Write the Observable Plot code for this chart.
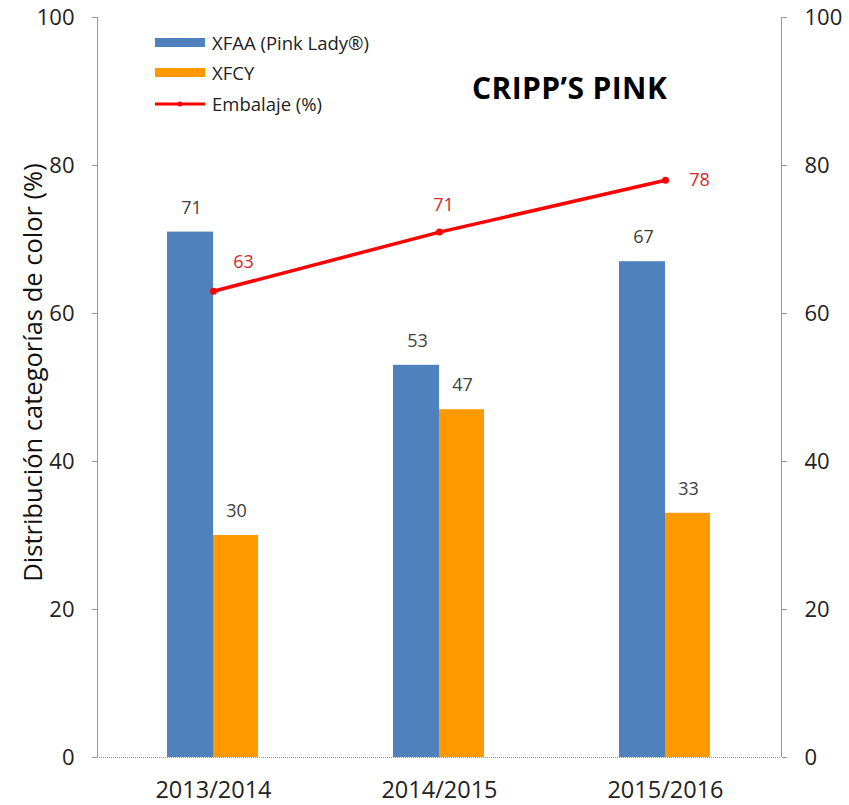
<!DOCTYPE html>
<html>
<head>
<meta charset="utf-8">
<script src="https://cdn.jsdelivr.net/npm/d3@7"></script>
<script src="https://cdn.jsdelivr.net/npm/@observablehq/plot@0.6"></script>
<style>
  body { margin: 0; background: #fff; }
  #wrap { position: relative; width: 849px; height: 805px; font-family: "Open Sans", sans-serif; }
  #title { position: absolute; left: 472px; top: 67px; font-size: 30px; font-weight: bold; color: #000; letter-spacing: 0.4px; }
  .leg { position: absolute; left: 155px; font-size: 18.5px; color: #222; display: flex; align-items: center; }
  .sw { width: 50px; height: 9px; margin-right: 7px; }
</style>
</head>
<body>
<div id="wrap">
  <div id="chart"></div>
  <div id="title">CRIPP’S PINK</div>
  <div class="leg" style="top:30px"><div class="sw" style="background:#4f81bd"></div>XFAA (Pink Lady®)</div>
  <div class="leg" style="top:60px"><div class="sw" style="background:#ff9900"></div>XFCY</div>
  <div class="leg" style="top:91px"><svg width="50" height="10" style="margin-right:7px"><line x1="0" y1="5" x2="50" y2="5" stroke="#ff0000" stroke-width="3"/><circle cx="25" cy="5" r="2.5" fill="#ff0000"/></svg>Embalaje (%)</div>
</div>
<script>
const years = ["2013/2014", "2014/2015", "2015/2016"];
const xfaa = [71, 53, 67];
const xfcy = [30, 47, 33];
const embalaje = [63, 71, 78];
const yTicks = [0, 20, 40, 60, 80, 100];

const blue = years.map((y, i) => ({year: y, value: xfaa[i]}));
const orange = years.map((y, i) => ({year: y, value: xfcy[i]}));
const line = years.map((y, i) => ({year: y, value: embalaje[i]}));

const chart = Plot.plot({
  width: 849,
  height: 805,
  marginLeft: 97,
  marginRight: 68,
  marginTop: 17,
  marginBottom: 48,
  style: {fontFamily: "Open Sans, sans-serif", background: "#fff"},
  x: {domain: years, padding: 0, range: [98.75, 778.25], label: null},
  y: {domain: [0, 100], label: null},
  marks: [
    Plot.barY(blue, {x: "year", y: "value", fill: "#4f81bd", insetLeft: 67, insetRight: 113}),
    Plot.barY(orange, {x: "year", y: "value", fill: "#ff9900", insetLeft: 113, insetRight: 68}),
    Plot.text(blue, {x: "year", y: "value", text: d => String(d.value), dx: -22, dy: -24, fontSize: 18, fill: "#404040"}),
    Plot.text(orange, {x: "year", y: "value", text: d => String(d.value), dx: 23, dy: -24, fontSize: 18, fill: "#404040"}),
    Plot.line(line, {x: "year", y: "value", stroke: "#ff0000", strokeWidth: 3.5}),
    Plot.dot(line, {x: "year", y: "value", r: 3.5, fill: "#ff0000"}),
    Plot.text(line.slice(0, 1), {x: "year", y: "value", text: d => String(d.value), dx: 30, dy: -29, fontSize: 18, fill: "#d62728"}),
    Plot.text(line.slice(1, 2), {x: "year", y: "value", text: d => String(d.value), dx: 4, dy: -27, fontSize: 18, fill: "#d62728"}),
    Plot.text(line.slice(2, 3), {x: "year", y: "value", text: d => String(d.value), dx: 34, dy: 0, fontSize: 18, fill: "#d62728"}),
    Plot.axisY({anchor: "left", ticks: yTicks, tickSize: 5, tickPadding: 18, stroke: "#999", fill: "#222", fontSize: 22, label: null}),
    Plot.axisY({anchor: "right", ticks: yTicks, tickSize: 5, tickPadding: 18, stroke: "#999", fill: "#222", fontSize: 22, label: null}),
    Plot.axisX({anchor: "bottom", tickSize: 0, tickPadding: 24, fill: "#222", fontSize: 23.5, label: null}),
    Plot.ruleY([0], {stroke: "#999", strokeDasharray: "1,1"}),
    Plot.frame({anchor: "left", stroke: "#999", strokeDasharray: "1,1"}),
    Plot.frame({anchor: "right", stroke: "#999", strokeDasharray: "1,1"}),
    Plot.text(["Distribución categorías de color (%)"], {frameAnchor: "left", textAnchor: "middle", dx: -64, dy: -15, rotate: -90, fontSize: 25.5, fill: "#111"})
  ]
});
document.getElementById("chart").appendChild(chart);
</script>
</body>
</html>
